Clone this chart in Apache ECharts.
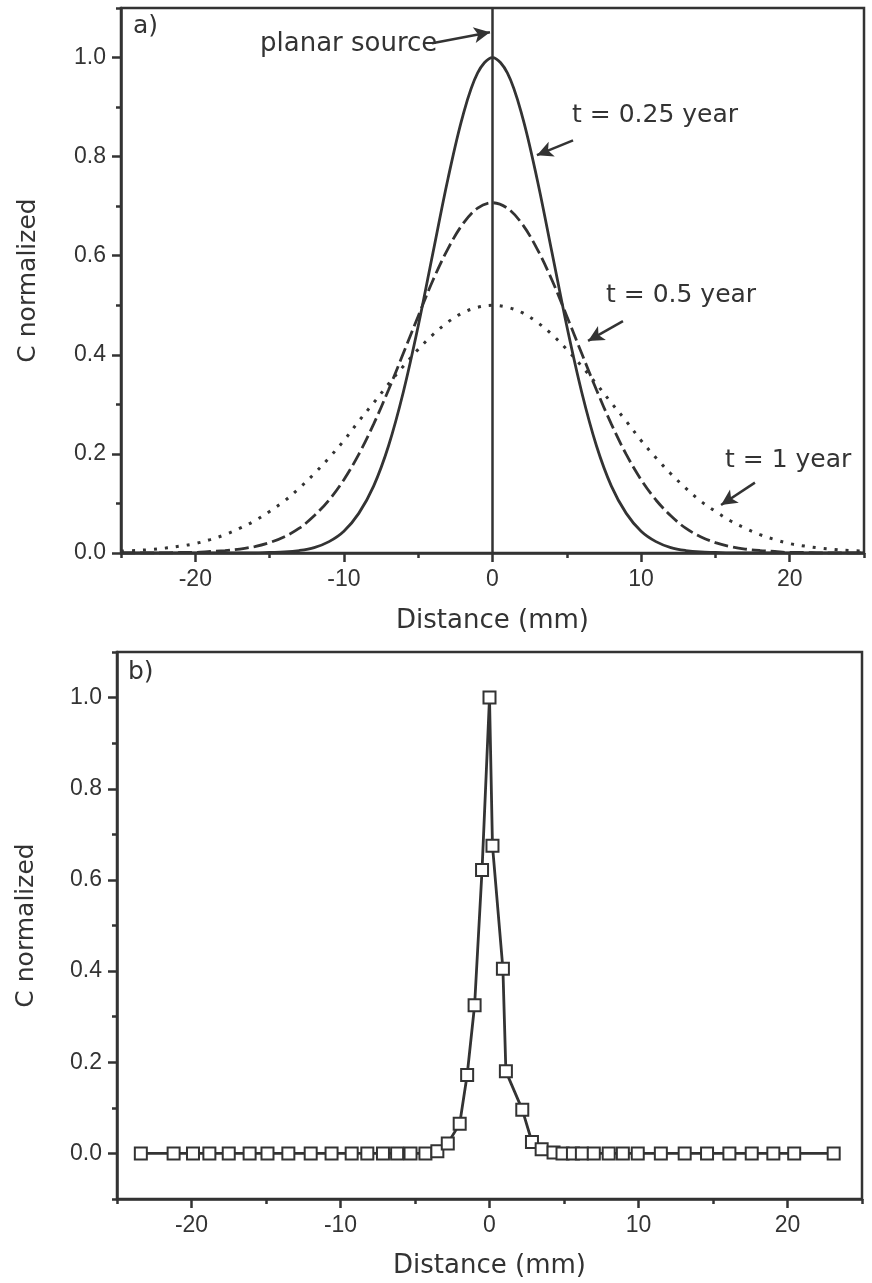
<!DOCTYPE html>
<html>
<head>
<meta charset="utf-8">
<script src="https://cdn.jsdelivr.net/npm/echarts@6/dist/echarts.min.js"></script>
<style>
html,body{margin:0;padding:0;background:#fff;}
#chart{width:872px;height:1283px;}
</style>
</head>
<body>
<div id="chart"></div>
<script>
// ---------- Data: panel a) ----------
var distA = [-25,-24,-23,-22,-21,-20,-19,-18,-17,-16,-15,-14,-13,-12,-11,-10,-9,-8,-7,-6,-5,-4,-3,-2,-1,0,
             1,2,3,4,5,6,7,8,9,10,11,12,13,14,15,16,17,18,19,20,21,22,23,24,25];
var cQuarterYear = [0,0,0,0,0,0,0,0,0,0,0.001,0.002,0.005,0.011,0.023,0.044,0.080,0.135,0.216,0.325,0.458,0.607,0.755,0.882,0.969,1.0,
                    0.969,0.882,0.755,0.607,0.458,0.325,0.216,0.135,0.080,0.044,0.023,0.011,0.005,0.002,0.001,0,0,0,0,0,0,0,0,0,0];
var cHalfYear = [0,0,0,0,0.001,0.001,0.003,0.005,0.008,0.013,0.021,0.033,0.050,0.075,0.107,0.148,0.199,0.260,0.329,0.403,0.478,0.551,0.614,0.664,0.696,0.707,
                 0.696,0.664,0.614,0.551,0.478,0.403,0.329,0.260,0.199,0.148,0.107,0.075,0.050,0.033,0.021,0.013,0.008,0.005,0.003,0.001,0.001,0,0,0,0];
var cOneYear = [0.004,0.005,0.007,0.010,0.014,0.019,0.027,0.037,0.050,0.065,0.084,0.105,0.131,0.160,0.192,0.227,0.266,0.303,0.341,0.377,0.411,0.441,0.466,0.485,0.496,0.500,
                0.496,0.485,0.466,0.441,0.411,0.377,0.341,0.303,0.266,0.227,0.192,0.160,0.131,0.105,0.084,0.065,0.050,0.037,0.027,0.019,0.014,0.010,0.007,0.005,0.004];

// ---------- Data: panel b) ----------
var distB = [-23.4,-21.2,-19.9,-18.8,-17.5,-16.1,-14.9,-13.5,-12.0,-10.6,-9.25,-8.2,-7.15,-6.2,-5.3,-4.3,-3.5,-2.8,-2.0,-1.5,-1.0,-0.5,0,0.2,0.9,1.1,2.2,2.85,3.5,4.3,4.9,5.6,6.2,7.0,8.0,8.95,9.95,11.5,13.1,14.6,16.1,17.6,19.05,20.45,23.1];
var cMeasured = [0,0,0,0,0,0,0,0,0,0,0,0,0,0,0,0,0.005,0.022,0.065,0.172,0.325,0.622,1.0,0.675,0.405,0.18,0.096,0.025,0.009,0.002,0,0,0,0,0,0,0,0,0,0,0,0,0,0,0];

// ---------- Tick labels ----------
var xMajorTicks = [-20,-10,0,10,20];
var yMajorTicks = [0,0.2,0.4,0.6,0.8,1.0];

// ---------- Annotations (data coordinates) ----------
var annotationArrows = [
  [[-4.07,1.029],[-0.17,1.051]],
  [[5.42,0.833],[2.99,0.803]],
  [[8.78,0.468],[6.43,0.428]],
  [[17.66,0.142],[15.38,0.097]]
];
var annotationTexts = ['planar source','t = 0.25 year','t = 0.5 year','t = 1 year'];

var INK = '#333';
var FONT = 'DejaVu Sans';
var TICKFONT = 'Liberation Sans';

function pairs(xs, ys){ return xs.map(function(x,i){ return [x, ys[i]]; }); }

function xAxesFor(gridIndex, nameGap){
  return [{
    type:'value', gridIndex:gridIndex, position:'bottom', min:-25, max:25, interval:5,
    axisLine:{show:true, onZero:false, lineStyle:{color:INK, width:2.5}},
    axisTick:{show:true, length:5, lineStyle:{color:INK, width:2.5}},
    axisLabel:{color:INK, fontFamily:TICKFONT, fontSize:23, margin:15,
      formatter:function(v){ return (Math.round(v)%10===0 && Math.abs(v)<25) ? String(Math.round(v)) : ''; }},
    splitLine:{show:false},
    name:'Distance (mm)', nameLocation:'middle', nameGap:nameGap,
    nameTextStyle:{color:INK, fontFamily:FONT, fontSize:26}
  },{
    type:'value', gridIndex:gridIndex, position:'bottom', min:-25, max:25,
    axisLine:{show:false, onZero:false},
    axisTick:{show:true, length:9, customValues:xMajorTicks, lineStyle:{color:INK, width:2.5}},
    axisLabel:{show:false}, splitLine:{show:false}
  }];
}
function yAxesFor(gridIndex, min, nameGap){
  return [{
    type:'value', gridIndex:gridIndex, position:'left', min:min, max:1.1, interval:0.1,
    axisLine:{show:true, onZero:false, lineStyle:{color:INK, width:2.5}},
    axisTick:{show:true, length:5, lineStyle:{color:INK, width:2.5}},
    axisLabel:{color:INK, fontFamily:TICKFONT, fontSize:23, margin:15,
      formatter:function(v){ var k=Math.round(v*10); return (k%2===0 && k>=0 && k<=10) ? (k/10).toFixed(1) : ''; }},
    splitLine:{show:false},
    name:'C normalized', nameLocation:'middle', nameGap:nameGap, nameRotate:90,
    nameTextStyle:{color:INK, fontFamily:FONT, fontSize:25}
  },{
    type:'value', gridIndex:gridIndex, position:'left', min:min, max:1.1,
    axisLine:{show:false, onZero:false},
    axisTick:{show:true, length:9, customValues:yMajorTicks, lineStyle:{color:INK, width:2.5}},
    axisLabel:{show:false}, splitLine:{show:false}
  }];
}

var chart = echarts.init(document.getElementById('chart'), null, {renderer:'canvas'});

var arrowData = annotationArrows.map(function(a){ return [{coord:a[0]},{coord:a[1]}]; });

var option = {
  backgroundColor:'#fff',
  animation:false,
  grid:[
    {left:121, top:8, width:743, height:545, show:true, borderColor:INK, borderWidth:2.5, backgroundColor:'transparent'},
    {left:117, top:652, width:745, height:547, show:true, borderColor:INK, borderWidth:2.5, backgroundColor:'transparent'}
  ],
  xAxis: xAxesFor(0, 55).concat(xAxesFor(1, 54)),
  yAxis: yAxesFor(0, 0, 80).concat(yAxesFor(1, -0.1, 78)),
  series:[
    {type:'line', name:'t = 0.25 year', xAxisIndex:0, yAxisIndex:0, data:pairs(distA,cQuarterYear),
     smooth:0.35, showSymbol:false, symbol:'none', silent:true,
     lineStyle:{color:INK, width:2.8, type:'solid'},
     markLine:{silent:true, symbol:['none','arrow'], symbolSize:[12,16], label:{show:false},
       lineStyle:{color:INK, width:2.5, type:'solid'}, data:arrowData}},
    {type:'line', name:'t = 0.5 year', xAxisIndex:0, yAxisIndex:0, data:pairs(distA,cHalfYear),
     smooth:0.35, showSymbol:false, symbol:'none', silent:true,
     lineStyle:{color:INK, width:2.8, type:[14,5]},
     markLine:{silent:true, symbol:['none','none'], label:{show:false},
       lineStyle:{color:INK, width:2.5, type:'solid'}, data:[{xAxis:0}]}},
    {type:'line', name:'t = 1 year', xAxisIndex:0, yAxisIndex:0, data:pairs(distA,cOneYear),
     smooth:0.35, showSymbol:false, symbol:'none', silent:true,
     lineStyle:{color:INK, width:3, type:[3,8]}},
    {type:'line', name:'measured', xAxisIndex:2, yAxisIndex:2, data:pairs(distB,cMeasured),
     symbol:'rect', symbolSize:12, showSymbol:true, silent:true,
     lineStyle:{color:INK, width:2.8},
     itemStyle:{color:'#fff', borderColor:INK, borderWidth:2}}
  ],
  graphic:[
    {type:'text', left:133, top:14, style:{text:'a)', font:'25px "DejaVu Sans"', fill:INK}},
    {type:'text', left:128, top:660, style:{text:'b)', font:'25px "DejaVu Sans"', fill:INK}},
    {type:'text', left:260, top:31, style:{text:annotationTexts[0], font:'26px "DejaVu Sans"', fill:INK}},
    {type:'text', left:572, top:103, style:{text:annotationTexts[1], font:'25px "DejaVu Sans"', fill:INK}},
    {type:'text', left:606, top:283, style:{text:annotationTexts[2], font:'25px "DejaVu Sans"', fill:INK}},
    {type:'text', left:725, top:448, style:{text:annotationTexts[3], font:'25px "DejaVu Sans"', fill:INK}}
  ]
};
chart.setOption(option);
</script>
</body>
</html>
